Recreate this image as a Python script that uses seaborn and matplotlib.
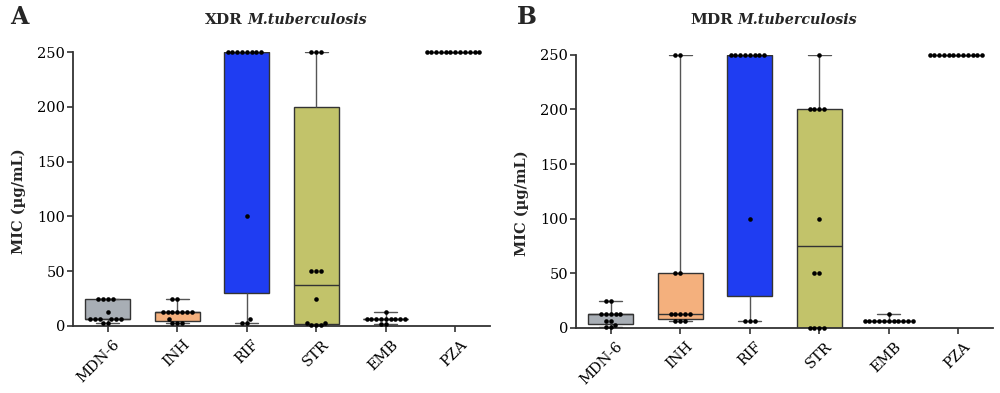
import numpy as np
import pandas as pd
import matplotlib
matplotlib.use("Agg")
import matplotlib.pyplot as plt
import matplotlib.cbook as cbook
import matplotlib.transforms as mtransforms
import seaborn as sns

# ---------------- data (MIC, µg/mL) ----------------
drugs = ["MDN-6", "INH", "RIF", "STR", "EMB", "PZA"]
box_colors = ["#A8AEB5", "#F4B07D", "#1F3DF2", "#C2C36A", "#C9C9C9", "#C9C9C9"]

xdr_mdn6 = [25, 25, 25, 25, 12.5, 6.25, 6.25, 6.25, 6.25, 6.25, 6.25, 3.125, 3.125]
xdr_inh = [25, 25, 12.5, 12.5, 12.5, 12.5, 12.5, 12.5, 12.5, 6.25, 3.125, 3.125, 3.125]
xdr_rif = [250, 250, 250, 250, 250, 250, 250, 250, 100, 6.25, 3.125, 3.125]
xdr_str = [250, 250, 250, 50, 50, 50, 25, 3.125, 3.125, 0.78, 0.78, 0.78]
xdr_emb = [12.5, 6.25, 6.25, 6.25, 6.25, 6.25, 6.25, 6.25, 6.25, 6.25, 1.56, 1.56]
xdr_pza = [250, 250, 250, 250, 250, 250, 250, 250, 250, 250, 250, 250]

mdr_mdn6 = [25, 25, 12.5, 12.5, 12.5, 12.5, 12.5, 6.25, 6.25, 3.125, 0.78, 0.78]
mdr_inh = [250, 250, 50, 50, 12.5, 12.5, 12.5, 12.5, 12.5, 6.25, 6.25, 6.25]
mdr_rif = [250, 250, 250, 250, 250, 250, 250, 250, 100, 6.25, 6.25, 6.25]
mdr_str = [250, 200, 200, 200, 200, 100, 50, 50, 0.39, 0.39, 0.39, 0.39]
mdr_emb = [12.5, 6.25, 6.25, 6.25, 6.25, 6.25, 6.25, 6.25, 6.25, 6.25, 6.25, 6.25]
mdr_pza = [250, 250, 250, 250, 250, 250, 250, 250, 250, 250, 250, 250]

yticks = [0, 50, 100, 150, 200, 250]
panel_titles = [("A", "XDR"), ("B", "MDR")]
species = "M.tuberculosis"
ylabel = "MIC (µg/mL)"

xdr = [xdr_mdn6, xdr_inh, xdr_rif, xdr_str, xdr_emb, xdr_pza]
mdr = [mdr_mdn6, mdr_inh, mdr_rif, mdr_str, mdr_emb, mdr_pza]


def to_frame(groups):
    rows = []
    for d, vals in zip(drugs, groups):
        for v in vals:
            rows.append({"drug": d, "mic": v})
    return pd.DataFrame(rows)


# GraphPad-style quartiles ((n+1)p, i.e. numpy "weibull") for the box statistics
_base_stats = cbook.boxplot_stats


def _prism_stats(X, *args, **kwargs):
    stats = _base_stats(X, *args, **kwargs)
    for st, x in zip(stats, cbook._reshape_2D(X, "X")):
        q1, med, q3 = np.percentile(np.asarray(x, float), [25, 50, 75], method="weibull")
        st.update(q1=q1, med=med, q3=q3, iqr=q3 - q1)
    return stats


matplotlib.cbook.boxplot_stats = _prism_stats

# ---------------- style ----------------
sns.set_style("ticks")
plt.rcParams["font.family"] = ["DejaVu Serif"]
dark = "#333333"

fig = plt.figure(figsize=(10, 3.93), dpi=100)
axA = fig.add_axes([0.073, 0.1705, 0.417, 0.697])
axB = fig.add_axes([0.576, 0.1654, 0.417, 0.695])

pal = dict(zip(drugs, box_colors))
label_shift = mtransforms.ScaledTranslation(5 / 100, -3 / 100, fig.dpi_scale_trans)

for ax, groups in [(axA, xdr), (axB, mdr)]:
    df = to_frame(groups)
    sns.boxplot(data=df, x="drug", y="mic", order=drugs, hue="drug", palette=pal,
                legend=False, width=0.65, whis=(0, 100), fliersize=0, linewidth=1.0,
                linecolor=dark, saturation=1, ax=ax,
                whiskerprops={"color": "#555555"}, capprops={"color": "#555555"})
    ax.set_xlim(-0.67, 5.67)
    ax.set_ylim(0, 250)
    sns.swarmplot(data=df, x="drug", y="mic", order=drugs, color="black", size=3.3,
                  ax=ax, clip_on=False, zorder=4, warn_thresh=1.0)
    ax.set_yticks(yticks)
    ax.set_xlabel("")
    ax.set_ylabel(ylabel, fontsize=10.5, fontweight="bold")
    ax.yaxis.set_label_coords(-0.113, 0.456)
    sns.despine(ax=ax)
    for s in ["left", "bottom"]:
        ax.spines[s].set_linewidth(1.3)
        ax.spines[s].set_color(dark)
    ax.tick_params(axis="both", direction="out", length=4, width=1.2, color=dark,
                   labelcolor="black")
    ax.tick_params(axis="y", labelsize=10.5, pad=1.5)
    ax.tick_params(axis="x", labelsize=10.5, pad=2)
    for lab in ax.get_xticklabels():
        lab.set_rotation(45)
        lab.set_ha("right")
        lab.set_va("top")
        lab.set_rotation_mode("anchor")
        lab.set_transform(lab.get_transform() + label_shift)

# panel letters and titles
fig.text(0.010, 0.957, "A", fontsize=17, fontweight="bold", va="center", ha="left")
fig.text(0.517, 0.957, "B", fontsize=17, fontweight="bold", va="center", ha="left")
fig.text(0.243, 0.949, "XDR", fontsize=11, fontweight="bold", va="center", ha="right")
fig.text(0.247, 0.949, species, fontsize=10.3, fontweight="bold", style="italic",
         va="center", ha="left")
fig.text(0.733, 0.949, "MDR", fontsize=11, fontweight="bold", va="center", ha="right")
fig.text(0.737, 0.949, species, fontsize=10.3, fontweight="bold", style="italic",
         va="center", ha="left")

fig.savefig("out.png", dpi=100)
